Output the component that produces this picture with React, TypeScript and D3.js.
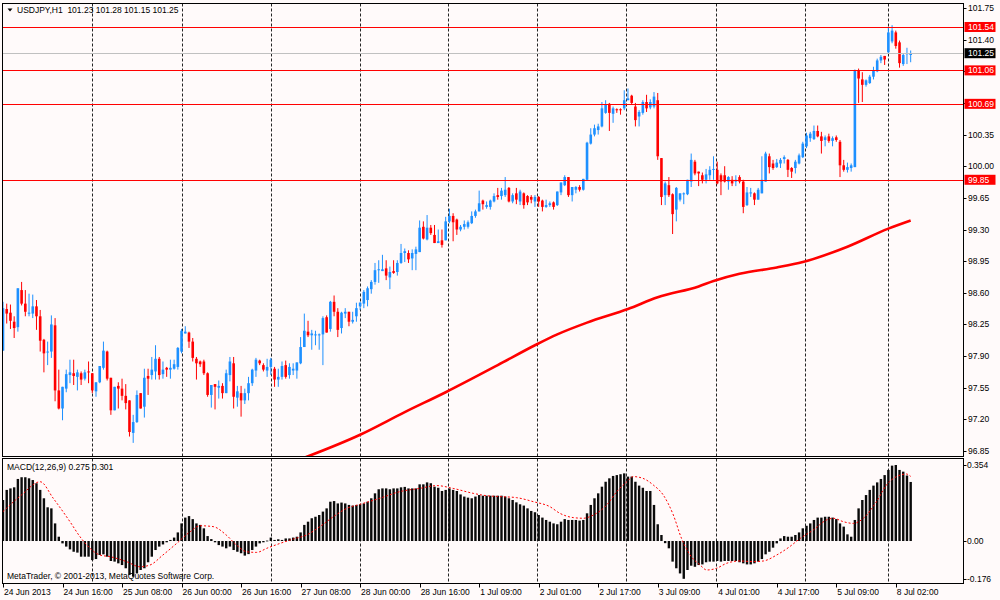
import React, { useEffect, useRef } from 'react';
import * as d3 from 'd3';

// USDJPY H1 candles (bar 0 = 24 Jun 2013 00:00)
const opens = [
  97.96, 98.42, 98.38, 98.28, 98.22, 98.63, 98.48, 98.37, 98.37, 98.45, // 0
  98.34, 98.08, 97.94, 97.95, 98.24, 97.52, 97.32, 97.54, 97.69, 97.71, // 10
  97.67, 97.71, 97.65, 97.73, 97.71, 97.51, 97.61, 97.77, 97.95, 97.66, // 20
  97.30, 97.57, 97.54, 97.46, 97.41, 97.05, 97.17, 97.49, 97.34, 97.68, // 30
  97.69, 97.73, 97.87, 97.70, 97.77, 97.75, 97.76, 97.78, 97.95, 98.15, // 40
  98.16, 98.06, 97.87, 97.84, 97.84, 97.71, 97.47, 97.59, 97.55, 97.57, // 50
  97.49, 97.69, 97.82, 97.44, 97.49, 97.41, 97.49, 97.60, 97.74, 97.85, // 60
  97.80, 97.74, 97.78, 97.76, 97.64, 97.67, 97.80, 97.69, 97.74, 97.74, // 70
  97.82, 98.00, 98.17, 98.13, 98.13, 98.13, 98.14, 98.33, 98.20, 98.50, // 80
  98.39, 98.21, 98.37, 98.39, 98.28, 98.34, 98.45, 98.48, 98.52, 98.64, // 90
  98.72, 98.85, 98.84, 98.87, 98.77, 98.84, 98.83, 98.93, 99.04, 99.04, // 100
  98.98, 99.03, 99.05, 99.33, 99.19, 99.32, 99.24, 99.15, 99.18, 99.18, // 110
  99.39, 99.45, 99.41, 99.30, 99.33, 99.33, 99.37, 99.45, 99.50, 99.62, // 120
  99.55, 99.55, 99.61, 99.68, 99.67, 99.68, 99.76, 99.61, 99.70, 99.61, // 130
  99.70, 99.67, 99.66, 99.61, 99.66, 99.62, 99.55, 99.57, 99.60, 99.57, // 140
  99.71, 99.79, 99.88, 99.68, 99.74, 99.77, 99.74, 99.85, 100.25, 100.35, // 150
  100.40, 100.44, 100.59, 100.69, 100.58, 100.63, 100.63, 100.64, 100.73, 100.78, // 160
  100.66, 100.55, 100.59, 100.71, 100.65, 100.66, 100.73, 100.09, 99.68, 99.79, // 170
  99.69, 99.52, 99.63, 99.69, 99.69, 99.83, 100.05, 99.94, 99.90, 99.85, // 180
  99.90, 99.96, 99.96, 99.90, 99.90, 99.83, 99.85, 99.83, 99.88, 99.83, // 190
  99.57, 99.70, 99.70, 99.63, 99.70, 99.83, 100.11, 100.03, 99.99, 100.03, // 200
  100.08, 100.07, 99.98, 99.98, 100.03, 100.10, 100.22, 100.31, 100.30, 100.39, // 210
  100.33, 100.29, 100.33, 100.28, 100.32, 100.27, 100.01, 99.96, 99.98, 99.99, // 220
  101.06, 100.96, 100.90, 100.92, 100.99, 101.05, 101.17, 101.22, 101.26, 101.38, // 230
  101.48, 101.37, 101.13, 101.24, 101.23, // 240
];
const highs = [
  98.50, 98.48, 98.47, 98.34, 98.65, 98.72, 98.63, 98.59, 98.58, 98.52,
  98.41, 98.09, 98.06, 98.35, 98.32, 97.75, 97.56, 97.75, 97.86, 97.86,
  97.75, 97.73, 97.75, 97.84, 97.71, 97.61, 97.79, 98.06, 97.96, 97.66,
  97.56, 97.61, 97.65, 97.59, 97.41, 97.25, 97.52, 97.49, 97.76, 97.76,
  97.89, 98.02, 97.89, 97.84, 97.78, 97.86, 97.86, 98.00, 98.20, 98.23,
  98.17, 98.10, 97.89, 97.85, 97.86, 97.72, 97.58, 97.59, 97.63, 97.60,
  97.75, 97.89, 97.89, 97.57, 97.57, 97.54, 97.67, 97.76, 97.88, 97.86,
  97.82, 97.87, 97.88, 97.78, 97.76, 97.84, 97.85, 97.82, 97.82, 97.83,
  98.11, 98.37, 98.29, 98.19, 98.18, 98.15, 98.34, 98.35, 98.51, 98.57,
  98.43, 98.39, 98.43, 98.39, 98.39, 98.49, 98.50, 98.63, 98.67, 98.74,
  98.93, 98.96, 99.02, 98.96, 98.89, 98.96, 98.96, 99.14, 99.09, 99.07,
  99.08, 99.11, 99.40, 99.39, 99.46, 99.35, 99.35, 99.30, 99.30, 99.44,
  99.53, 99.48, 99.42, 99.35, 99.40, 99.40, 99.50, 99.52, 99.73, 99.63,
  99.61, 99.63, 99.70, 99.76, 99.76, 99.88, 99.77, 99.70, 99.76, 99.74,
  99.71, 99.68, 99.68, 99.68, 99.67, 99.63, 99.63, 99.61, 99.61, 99.72,
  99.82, 99.90, 99.88, 99.77, 99.78, 99.79, 99.86, 100.27, 100.42, 100.46,
  100.47, 100.71, 100.73, 100.70, 100.66, 100.64, 100.64, 100.84, 100.86, 100.79,
  100.70, 100.62, 100.73, 100.79, 100.74, 100.82, 100.81, 100.09, 99.83, 99.88,
  99.70, 99.77, 99.70, 99.71, 99.85, 100.14, 100.07, 99.94, 99.93, 99.97,
  100.00, 100.11, 100.05, 99.92, 100.00, 99.89, 99.89, 99.90, 99.90, 99.85,
  99.77, 99.76, 99.71, 99.76, 100.11, 100.16, 100.14, 100.07, 100.08, 100.09,
  100.12, 100.08, 99.99, 100.07, 100.14, 100.27, 100.37, 100.38, 100.45, 100.45,
  100.38, 100.34, 100.36, 100.33, 100.34, 100.29, 100.07, 100.04, 100.03, 101.07,
  101.08, 101.04, 100.96, 101.01, 101.10, 101.19, 101.23, 101.22, 101.54, 101.56,
  101.50, 101.39, 101.25, 101.31, 101.28,
];
const lows = [
  97.96, 98.26, 98.20, 98.10, 98.17, 98.46, 98.34, 98.34, 98.32, 98.19,
  97.95, 97.72, 97.80, 97.88, 97.40, 97.31, 97.19, 97.50, 97.60, 97.58,
  97.52, 97.58, 97.63, 97.60, 97.49, 97.45, 97.60, 97.75, 97.63, 97.25,
  97.30, 97.32, 97.41, 97.31, 97.01, 96.94, 97.16, 97.32, 97.22, 97.47,
  97.64, 97.64, 97.64, 97.65, 97.67, 97.65, 97.75, 97.75, 97.93, 98.15,
  97.99, 97.84, 97.64, 97.78, 97.69, 97.45, 97.33, 97.31, 97.43, 97.43,
  97.49, 97.62, 97.32, 97.34, 97.23, 97.37, 97.41, 97.57, 97.67, 97.80,
  97.73, 97.67, 97.69, 97.56, 97.56, 97.64, 97.65, 97.65, 97.69, 97.65,
  97.81, 98.00, 98.11, 97.97, 98.02, 97.97, 97.80, 98.16, 98.17, 98.34,
  98.11, 98.15, 98.32, 98.23, 98.26, 98.28, 98.41, 98.43, 98.45, 98.59,
  98.69, 98.71, 98.84, 98.74, 98.64, 98.81, 98.79, 98.92, 98.94, 98.93,
  98.85, 98.85, 99.05, 99.19, 99.18, 99.24, 99.15, 99.15, 99.10, 99.18,
  99.37, 99.17, 99.24, 99.28, 99.30, 99.31, 99.36, 99.43, 99.50, 99.52,
  99.53, 99.52, 99.60, 99.63, 99.63, 99.66, 99.60, 99.59, 99.58, 99.57,
  99.53, 99.57, 99.59, 99.55, 99.55, 99.50, 99.54, 99.55, 99.52, 99.56,
  99.68, 99.78, 99.66, 99.61, 99.70, 99.72, 99.73, 99.84, 100.24, 100.33,
  100.35, 100.43, 100.58, 100.39, 100.48, 100.59, 100.57, 100.62, 100.73, 100.68,
  100.44, 100.44, 100.57, 100.60, 100.63, 100.64, 100.07, 99.57, 99.57, 99.66,
  99.25, 99.39, 99.61, 99.58, 99.68, 99.77, 99.90, 99.78, 99.81, 99.81,
  99.85, 99.85, 99.80, 99.68, 99.82, 99.74, 99.78, 99.78, 99.81, 99.48,
  99.56, 99.66, 99.57, 99.63, 99.70, 99.83, 99.92, 99.96, 99.98, 99.98,
  100.03, 99.88, 99.87, 99.92, 100.02, 100.09, 100.20, 100.27, 100.29, 100.32,
  100.14, 100.22, 100.26, 100.22, 100.27, 99.88, 99.94, 99.93, 99.94, 99.99,
  100.70, 100.71, 100.88, 100.91, 100.96, 101.04, 101.14, 101.12, 101.25, 101.36,
  101.30, 101.09, 101.11, 101.13, 101.15,
];
const closes = [
  98.43, 98.37, 98.29, 98.21, 98.65, 98.48, 98.39, 98.38, 98.45, 98.34,
  98.07, 97.93, 97.95, 98.25, 97.52, 97.32, 97.56, 97.70, 97.72, 97.68,
  97.72, 97.64, 97.72, 97.72, 97.52, 97.61, 97.79, 97.96, 97.65, 97.30,
  97.56, 97.54, 97.46, 97.38, 97.06, 97.17, 97.47, 97.32, 97.66, 97.65,
  97.75, 97.87, 97.69, 97.75, 97.75, 97.77, 97.81, 97.99, 98.18, 98.17,
  98.06, 97.88, 97.82, 97.81, 97.71, 97.47, 97.58, 97.56, 97.57, 97.49,
  97.71, 97.84, 97.45, 97.51, 97.41, 97.49, 97.60, 97.75, 97.86, 97.82,
  97.75, 97.78, 97.86, 97.64, 97.67, 97.79, 97.67, 97.78, 97.76, 97.83,
  98.00, 98.18, 98.13, 98.15, 98.14, 98.14, 98.32, 98.16, 98.50, 98.39,
  98.19, 98.38, 98.39, 98.28, 98.30, 98.43, 98.49, 98.61, 98.65, 98.72,
  98.85, 98.86, 98.86, 98.79, 98.83, 98.82, 98.93, 99.04, 99.06, 98.97,
  99.04, 99.08, 99.32, 99.20, 99.32, 99.26, 99.15, 99.17, 99.13, 99.39,
  99.45, 99.38, 99.30, 99.33, 99.36, 99.38, 99.45, 99.50, 99.59, 99.58,
  99.57, 99.62, 99.67, 99.66, 99.73, 99.74, 99.61, 99.68, 99.63, 99.72,
  99.57, 99.60, 99.63, 99.66, 99.61, 99.55, 99.57, 99.59, 99.55, 99.72,
  99.82, 99.88, 99.68, 99.77, 99.77, 99.74, 99.86, 100.26, 100.35, 100.42,
  100.44, 100.64, 100.68, 100.59, 100.64, 100.62, 100.62, 100.73, 100.75, 100.70,
  100.51, 100.60, 100.71, 100.64, 100.71, 100.77, 100.11, 99.66, 99.81, 99.68,
  99.47, 99.76, 99.70, 99.70, 99.85, 100.07, 99.92, 99.92, 99.85, 99.91,
  99.96, 99.97, 99.81, 99.83, 99.83, 99.88, 99.81, 99.85, 99.83, 99.55,
  99.71, 99.71, 99.63, 99.74, 99.85, 100.14, 99.99, 99.98, 100.04, 100.07,
  100.10, 99.96, 99.94, 100.05, 100.12, 100.25, 100.34, 100.36, 100.39, 100.33,
  100.28, 100.32, 100.28, 100.31, 100.29, 100.01, 99.96, 99.99, 100.01, 101.06,
  100.97, 100.90, 100.95, 100.99, 101.06, 101.17, 101.21, 101.18, 101.48, 101.50,
  101.33, 101.14, 101.23, 101.25, 101.25,
];

// MACD(12,26,9) main histogram, one value per bar
const macdValues = [
  0.191, 0.238, 0.245, 0.250, 0.289, 0.297, 0.297, 0.292, 0.284, 0.269,
  0.238, 0.199, 0.157, 0.152, 0.082, 0.020, -0.011, -0.026, -0.039, -0.050,
  -0.054, -0.073, -0.073, -0.073, -0.089, -0.084, -0.065, -0.062, -0.073, -0.093,
  -0.096, -0.104, -0.112, -0.127, -0.158, -0.166, -0.151, -0.135, -0.127, -0.099,
  -0.073, -0.042, -0.026, -0.016, -0.006, 0.005, 0.016, 0.040, 0.082, 0.109,
  0.116, 0.102, 0.082, 0.075, 0.059, 0.023, 0.009, -0.006, -0.019, -0.026,
  -0.034, -0.026, -0.042, -0.050, -0.057, -0.068, -0.061, -0.042, -0.026, -0.011,
  -0.006, 0.002, 0.016, 0.005, 0.008, 0.005, 0.012, 0.012, 0.016, 0.020,
  0.040, 0.075, 0.090, 0.106, 0.113, 0.121, 0.137, 0.152, 0.183, 0.186,
  0.175, 0.179, 0.175, 0.168, 0.165, 0.168, 0.171, 0.175, 0.183, 0.199,
  0.222, 0.241, 0.245, 0.245, 0.241, 0.245, 0.245, 0.250, 0.252, 0.245,
  0.245, 0.245, 0.264, 0.264, 0.273, 0.269, 0.253, 0.248, 0.233, 0.238,
  0.245, 0.238, 0.233, 0.217, 0.207, 0.202, 0.199, 0.207, 0.214, 0.211,
  0.211, 0.211, 0.211, 0.211, 0.211, 0.207, 0.199, 0.191, 0.180, 0.171,
  0.165, 0.152, 0.140, 0.134, 0.121, 0.109, 0.098, 0.090, 0.082, 0.078,
  0.090, 0.102, 0.098, 0.098, 0.098, 0.095, 0.098, 0.129, 0.168, 0.199,
  0.222, 0.253, 0.276, 0.292, 0.303, 0.307, 0.311, 0.315, 0.300, 0.300,
  0.276, 0.258, 0.248, 0.233, 0.233, 0.168, 0.078, 0.028, -0.010, -0.034,
  -0.096, -0.127, -0.151, -0.176, -0.135, -0.115, -0.120, -0.112, -0.109, -0.099,
  -0.096, -0.096, -0.093, -0.096, -0.093, -0.093, -0.093, -0.093, -0.099, -0.104,
  -0.109, -0.109, -0.104, -0.096, -0.084, -0.062, -0.050, -0.031, -0.011, 0.012,
  0.023, 0.020, 0.020, 0.028, 0.040, 0.059, 0.071, 0.082, 0.098, 0.109,
  0.109, 0.113, 0.113, 0.109, 0.102, 0.082, 0.067, 0.031, 0.020, 0.098,
  0.152, 0.191, 0.214, 0.238, 0.258, 0.273, 0.289, 0.307, 0.331, 0.351,
  0.354, 0.331, 0.323, 0.305, 0.275,
];

// signal line, [bar, value]
const signalPoints: [number, number][] = [
  [0, 0.137], [5, 0.215], [10, 0.276], [13.5, 0.199], [18, 0.090], [20.7, 0.020],
  [23.4, -0.034], [26, -0.065], [28.8, -0.073], [33.2, -0.096], [36.8, -0.120],
  [39.5, -0.112], [43, -0.065], [46.7, -0.011], [50.3, 0.043], [53, 0.071],
  [56.5, 0.067], [60, 0.028], [62.8, -0.019], [65.5, -0.050], [68.2, -0.053],
  [70.9, -0.034], [74.5, -0.011], [78, 0.009], [81.6, 0.028], [85.2, 0.067],
  [88.8, 0.113], [92.4, 0.152], [96, 0.171], [101.3, 0.199], [106.7, 0.230],
  [112, 0.245], [116.6, 0.258], [121, 0.245], [126.4, 0.222], [130, 0.211],
  [133.6, 0.207], [138, 0.202], [142.6, 0.183], [147, 0.160], [149.7, 0.129],
  [153.3, 0.109], [156, 0.106], [158.7, 0.121], [162.3, 0.168], [165, 0.230],
  [167.7, 0.276], [169.4, 0.300], [172, 0.292], [174.8, 0.261], [177.5, 0.214],
  [180.2, 0.121], [182.4, 0.012], [184.7, -0.065], [187.4, -0.112], [189.2, -0.135],
  [191.8, -0.127], [194.5, -0.104], [198, -0.093], [201.7, -0.096], [204.4, -0.093],
  [208, -0.065], [211.5, -0.026], [214.3, 0.012], [217.8, 0.051], [221.4, 0.098],
  [223.2, 0.106], [225.9, 0.090], [228.6, 0.082], [231.3, 0.106], [234.8, 0.183],
  [237.5, 0.261], [240.2, 0.300], [242.9, 0.312], [244, 0.301],
];

// thick red moving average, [bar, price]
const maPoints: [number, number][] = [
  [80, 96.76], [96, 97.03], [108, 97.28], [119, 97.50], [133, 97.80], [143, 98.02],
  [149, 98.14], [157, 98.27], [168, 98.42], [176, 98.55], [187, 98.67], [191, 98.73],
  [198, 98.81], [208, 98.88], [215, 98.94], [227, 99.11], [238, 99.31], [244, 99.40],
];

const levelLines = [101.54, 101.06, 100.69, 99.85];
const bidPrice = 101.25;
const priceTicks = [101.75, 101.40, 101.05, 100.70, 100.35, 100.00, 99.65, 99.30, 98.95, 98.60, 98.25, 97.90, 97.55, 97.20, 96.85];
const macdTicks = [0.354, 0, -0.176];
const macdTickLabels = ['0.354', '0.00', '-0.176'];
const timeBars = [0, 16, 32, 48, 64, 80, 96, 112, 128, 144, 160, 176, 192, 208, 224, 240];
const timeLabels = [
  '24 Jun 2013', '24 Jun 16:00', '25 Jun 08:00', '26 Jun 00:00', '26 Jun 16:00', '27 Jun 08:00',
  '28 Jun 00:00', '28 Jun 16:00', '1 Jul 09:00', '2 Jul 01:00', '2 Jul 17:00', '3 Jul 09:00',
  '4 Jul 01:00', '4 Jul 17:00', '5 Jul 09:00', '8 Jul 02:00',
];
const gridBars = [24, 48, 72, 96, 119.6, 143.6, 167.6, 191.6, 215.6, 237.8];

const W = 1000;
const H = 600;
const FONT = "'Liberation Sans', Arial, sans-serif";

const App: React.FC = () => {
  const svgRef = useRef<SVGSVGElement>(null);

  useEffect(() => {
    if (!svgRef.current) return;
    const svg = d3.select(svgRef.current);
    svg.selectAll('*').remove();

    const left = 2.5, right = 963.5;
    const mainTop = 3.5, mainBottom = 456.5;
    const subTop = 458.5, subBottom = 583.5;

    const x = d3.scaleLinear().domain([0, 244]).range([3, 3 + 244 * 3.72]);
    const y = d3.scaleLinear().domain([96.85, 101.75]).range([451, 8]);
    const ym = d3.scaleLinear().domain([-0.176, 0.354]).range([578.8, 465]);

    svg.append('rect').attr('width', W).attr('height', H).attr('fill', '#fffafa');

    const defs = svg.append('defs');
    defs.append('clipPath').attr('id', 'clip-main')
      .append('rect').attr('x', left).attr('y', mainTop).attr('width', right - left).attr('height', mainBottom - mainTop);
    defs.append('clipPath').attr('id', 'clip-sub')
      .append('rect').attr('x', left).attr('y', subTop).attr('width', right - left).attr('height', subBottom - subTop);

    // vertical grid
    svg.append('g').selectAll('line').data(gridBars).enter().append('line')
      .attr('x1', d => Math.round(x(d)) + 0.5).attr('x2', d => Math.round(x(d)) + 0.5)
      .attr('y1', mainTop).attr('y2', subBottom)
      .attr('stroke', '#000').attr('stroke-width', 1).attr('stroke-dasharray', '3,2')
      .attr('opacity', 0.85);

    const main = svg.append('g').attr('clip-path', 'url(#clip-main)');

    // moving average
    const maLine = d3.line<[number, number]>()
      .x(d => x(d[0])).y(d => y(d[1])).curve(d3.curveMonotoneX);
    main.append('path').datum(maPoints).attr('d', maLine)
      .attr('fill', 'none').attr('stroke', '#ff0000').attr('stroke-width', 2.6);

    // candles
    const idx = d3.range(closes.length);
    const candles = main.append('g').selectAll('g').data(idx).enter().append('g');
    const col = (i: number) => (closes[i] >= opens[i] ? '#1e90ff' : '#ff0000');
    candles.append('line')
      .attr('x1', i => x(i)).attr('x2', i => x(i))
      .attr('y1', i => y(highs[i])).attr('y2', i => y(lows[i]))
      .attr('stroke', col).attr('stroke-width', 1);
    candles.append('rect')
      .attr('x', i => x(i) - 1.3).attr('width', 2.6)
      .attr('y', i => y(Math.max(opens[i], closes[i])))
      .attr('height', i => Math.max(1, Math.abs(y(opens[i]) - y(closes[i]))))
      .attr('fill', col);

    // horizontal levels
    main.selectAll('.lvl').data(levelLines).enter().append('line').attr('class', 'lvl')
      .attr('x1', left).attr('x2', right)
      .attr('y1', d => Math.round(y(d)) + 0.5).attr('y2', d => Math.round(y(d)) + 0.5)
      .attr('stroke', '#ff0000').attr('stroke-width', 1);
    main.append('line')
      .attr('x1', left).attr('x2', right)
      .attr('y1', Math.round(y(bidPrice)) + 0.5).attr('y2', Math.round(y(bidPrice)) + 0.5)
      .attr('stroke', '#c0c0c0').attr('stroke-width', 1);

    // MACD panel
    const sub = svg.append('g').attr('clip-path', 'url(#clip-sub)');
    sub.selectAll('rect').data(idx).enter().append('rect')
      .attr('x', i => x(i) - 1.2).attr('width', 2.4)
      .attr('y', i => ym(Math.max(0, macdValues[i])))
      .attr('height', i => Math.max(0.8, Math.abs(ym(macdValues[i]) - ym(0))))
      .attr('fill', '#0a0a0a');
    const sigLine = d3.line<[number, number]>()
      .x(d => x(d[0])).y(d => ym(d[1])).curve(d3.curveMonotoneX);
    sub.append('path').datum(signalPoints).attr('d', sigLine)
      .attr('fill', 'none').attr('stroke', '#ff0000').attr('stroke-width', 1)
      .attr('stroke-dasharray', '2,2');

    // panel borders
    svg.append('rect').attr('x', left).attr('y', mainTop).attr('width', right - left).attr('height', mainBottom - mainTop)
      .attr('fill', 'none').attr('stroke', '#000');
    svg.append('rect').attr('x', left).attr('y', subTop).attr('width', right - left).attr('height', subBottom - subTop)
      .attr('fill', 'none').attr('stroke', '#000');

    const txt = (g: d3.Selection<any, any, any, any>) =>
      g.attr('font-family', FONT).attr('font-size', 8.5).attr('fill', '#000');

    // price axis
    const pa = svg.append('g');
    pa.selectAll('line').data(priceTicks).enter().append('line')
      .attr('x1', right).attr('x2', right + 3)
      .attr('y1', d => Math.round(y(d)) + 0.5).attr('y2', d => Math.round(y(d)) + 0.5)
      .attr('stroke', '#000');
    txt(pa.selectAll('text').data(priceTicks).enter().append('text'))
      .attr('x', 968).attr('y', d => y(d) + 3).text(d => d.toFixed(2));

    // level tags
    const tags = [...levelLines.map(v => ({ v, fill: '#ff0000' })), { v: bidPrice, fill: '#000' }];
    const tg = svg.append('g').selectAll('g').data(tags).enter().append('g');
    tg.append('rect').attr('x', 964.5).attr('width', 31).attr('y', d => y(d.v) - 5).attr('height', 10)
      .attr('fill', d => d.fill);
    txt(tg.append('text')).attr('fill', '#fff').attr('x', 968).attr('y', d => y(d.v) + 3)
      .text(d => d.v.toFixed(2));

    // MACD axis
    const ma = svg.append('g');
    ma.selectAll('line').data(macdTicks).enter().append('line')
      .attr('x1', right).attr('x2', right + 3)
      .attr('y1', d => Math.round(ym(d)) + 0.5).attr('y2', d => Math.round(ym(d)) + 0.5)
      .attr('stroke', '#000');
    txt(ma.selectAll('text').data(macdTicks).enter().append('text'))
      .attr('x', 967).attr('y', d => ym(d) + 3).text((d, i) => macdTickLabels[i]);

    // time axis
    const ta = svg.append('g');
    ta.selectAll('line').data(timeBars).enter().append('line')
      .attr('x1', d => Math.round(x(d)) + 0.5).attr('x2', d => Math.round(x(d)) + 0.5)
      .attr('y1', subBottom).attr('y2', subBottom + 4)
      .attr('stroke', '#000');
    txt(ta.selectAll('text').data(timeBars).enter().append('text'))
      .attr('x', d => x(d) + 1).attr('y', 595).text((d, i) => timeLabels[i]);

    // header and captions
    svg.append('path').attr('d', 'M7.5,8.5 L12.5,8.5 L10,11.5 Z').attr('fill', '#000');
    txt(svg.append('text')).attr('x', 17).attr('y', 13)
      .text('USDJPY,H1  101.23 101.28 101.15 101.25').attr('xml:space', 'preserve')
      .style('white-space', 'pre');
    txt(svg.append('text')).attr('x', 7).attr('y', 470).text('MACD(12,26,9) 0.275 0.301');
    txt(svg.append('text')).attr('x', 7).attr('y', 579)
      .text('MetaTrader, \u00a9 2001-2013, MetaQuotes Software Corp.');
  }, []);

  return (
    <div style={{ position: 'absolute', left: 0, top: 0, width: W, height: H }}>
      <svg ref={svgRef} width={W} height={H} style={{ display: 'block' }} />
    </div>
  );
};

export default App;
